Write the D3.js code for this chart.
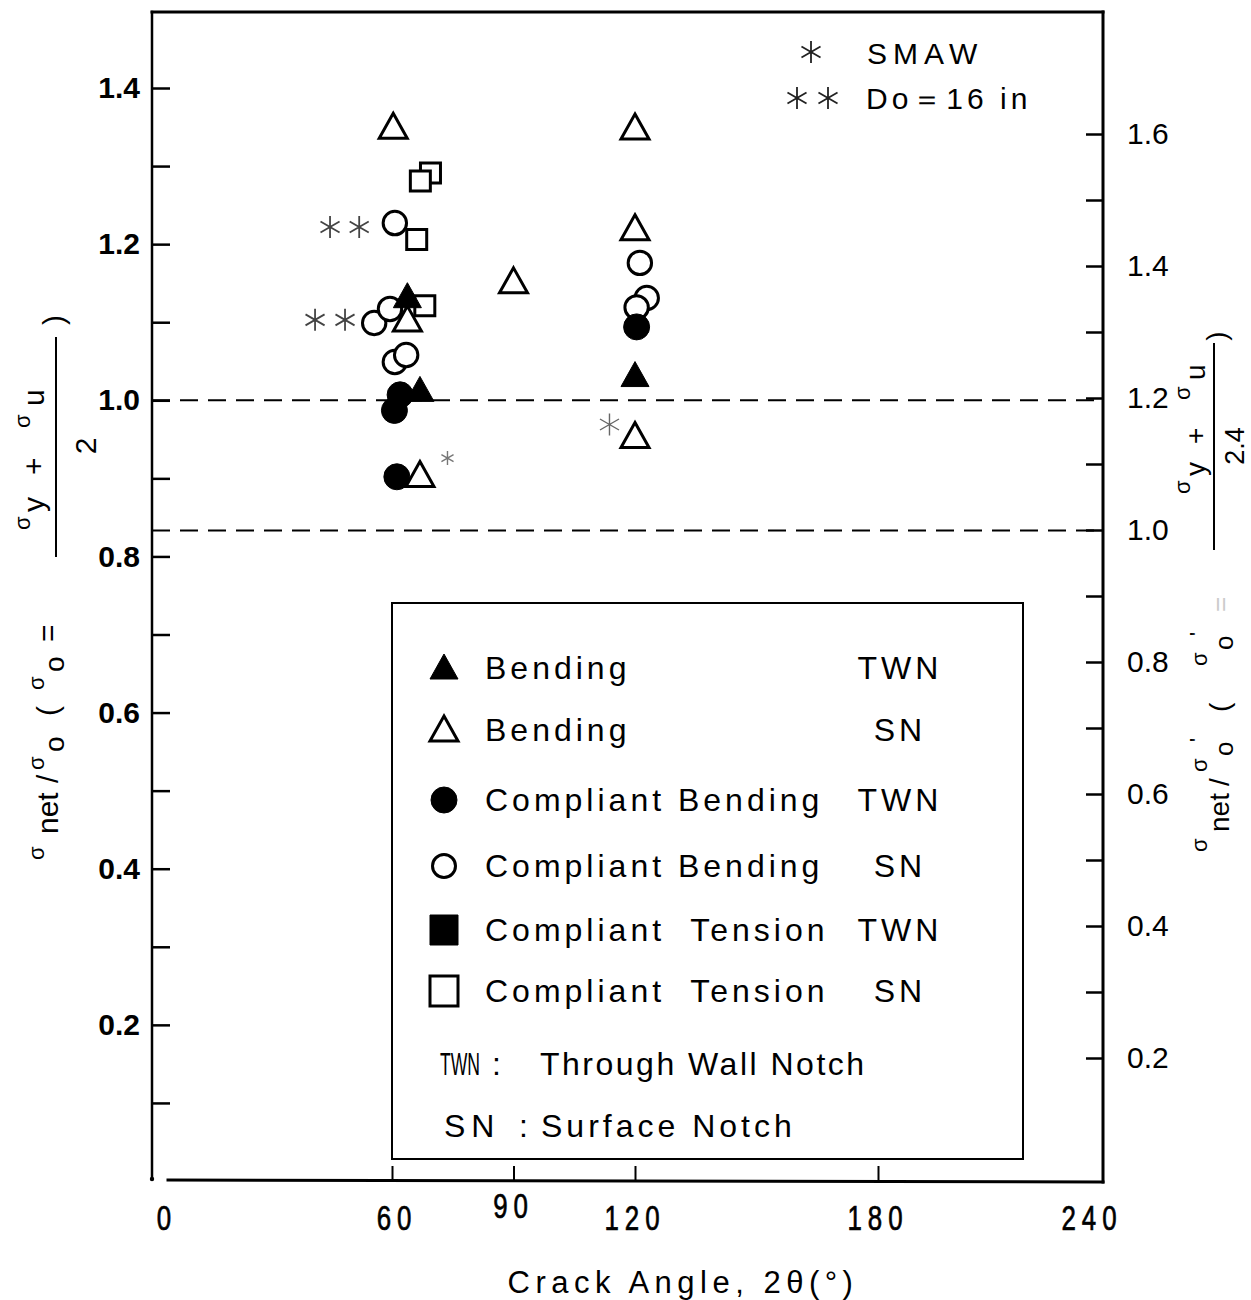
<!DOCTYPE html>
<html><head><meta charset="utf-8">
<script src="https://cdn.jsdelivr.net/npm/d3@7"></script>
<style>body{margin:0;background:#fff} svg{display:block}</style>
</head><body><svg id="c" width="1251" height="1300"></svg>
<script>
// ---------- data (crack angle 2θ in degrees, σnet/σo) ----------
const bendTWN      = [[63.8,1.133],[66.9,1.013],[120,1.032]];
const bendSN       = [[60.3,1.350],[120,1.349],[120,1.220],[90,1.152],[63.8,1.103],[66.9,0.904],[120,0.954]];
const compBendTWN  = [[62.0,1.007],[60.6,0.987],[61.2,0.902],[120.4,1.094]];
const compBendSN   = [[55.6,1.099],[59.5,1.117],[60.7,1.227],[60.7,1.049],[63.5,1.058],[121.2,1.176],[122.9,1.131],[120.4,1.119]];
const compTensTWN  = [];
const compTensSN   = [[69.5,1.291],[67.0,1.281],[66.1,1.206],[68.1,1.121]];
const smawMarks    = [[73.7,0.926],[113.7,0.969]];
const do16Marks    = [[44.7,1.222],[51.9,1.222],[41.0,1.103],[48.4,1.103]];
const refLevels    = [1.0, 1/1.2];
const xTickVals    = [60,90,120,180];
const xLabelVals   = [0,60,90,120,180,240];
const yLeftTicks   = [0.1,0.2,0.3,0.4,0.5,0.6,0.7,0.8,0.9,1.0,1.1,1.2,1.3,1.4];
const yRightTicks  = [0.2,0.3,0.4,0.5,0.6,0.7,0.8,0.9,1.0,1.1,1.2,1.3,1.4,1.5,1.6];
const legendRows = [
  {shape:"triUp",  fill:true,  name:"Bending",            notch:"TWN"},
  {shape:"triUp",  fill:false, name:"Bending",            notch:"SN"},
  {shape:"circle", fill:true,  name:"Compliant Bending",  notch:"TWN"},
  {shape:"circle", fill:false, name:"Compliant Bending",  notch:"SN"},
  {shape:"square", fill:true,  name:"Compliant  Tension", notch:"TWN"},
  {shape:"square", fill:false, name:"Compliant  Tension", notch:"SN"}
];

// ---------- layout ----------
const svg = d3.select("#c");
const L = 152, R = 1103, T = 12;
const x  = d3.scaleLinear().domain([60,120]).range([392,635]);
const yL = d3.scaleLinear().domain([0,1.4]).range([1181,88]);
const yR = d3.scaleLinear().domain([0.2,1.6]).range([1058,134]);
const FONT = "'Liberation Sans', Arial, sans-serif";

// frame
const fr = svg.append("g").attr("stroke","#000").attr("fill","none").attr("stroke-linecap","square");
fr.append("line").attr("x1",L).attr("y1",T).attr("x2",R).attr("y2",T).attr("stroke-width",3);
fr.append("line").attr("x1",R).attr("y1",T).attr("x2",R).attr("y2",1182).attr("stroke-width",3);
fr.append("line").attr("x1",L).attr("y1",T).attr("x2",L).attr("y2",1179).attr("stroke-width",2.5);
fr.append("line").attr("x1",168).attr("y1",1180).attr("x2",R).attr("y2",1182).attr("stroke-width",3);
svg.append("circle").attr("cx",L).attr("cy",1179).attr("r",2.2).attr("fill","#000");

// dashed reference lines
svg.selectAll("line.ref").data(refLevels).join("line").attr("class","ref")
  .attr("x1",L).attr("x2",R).attr("y1",d=>yL(d)).attr("y2",d=>yL(d))
  .attr("stroke","#000").attr("stroke-width",2).attr("stroke-dasharray","18,10");

// left axis
const axL = svg.append("g").attr("transform",`translate(${L},0)`)
  .call(d3.axisLeft(yL).tickValues(yLeftTicks).tickSizeInner(-18).tickSizeOuter(0).tickPadding(12)
    .tickFormat(d => (Math.round(d*10)%2===0) ? d3.format(".1f")(d) : ""));
axL.select(".domain").remove();
axL.selectAll("line").attr("stroke","#000").attr("stroke-width",2.5);
axL.selectAll("text").attr("font-family",FONT).attr("font-size",30).attr("font-weight","bold").attr("fill","#000");

// right axis
const axR = svg.append("g").attr("transform",`translate(${R},0)`)
  .call(d3.axisRight(yR).tickValues(yRightTicks).tickSizeInner(-17).tickSizeOuter(0).tickPadding(24)
    .tickFormat(d => (Math.round(d*10)%2===0) ? d3.format(".1f")(d) : ""));
axR.select(".domain").remove();
axR.selectAll("line").attr("stroke","#000").attr("stroke-width",2.5);
axR.selectAll("text").attr("font-family",FONT).attr("font-size",30).attr("fill","#000");

// bottom axis ticks
const axB = svg.append("g").attr("transform",`translate(0,1181)`)
  .call(d3.axisBottom(x).tickValues(xTickVals).tickSizeInner(-15).tickSizeOuter(0).tickFormat(""));
axB.select(".domain").remove();
axB.selectAll("line").attr("stroke","#000").attr("stroke-width",2);
// bottom labels (end labels pulled inside the frame as in the original), condensed glyphs
svg.selectAll("text.xl").data(xLabelVals).join("text").attr("class","xl")
  .attr("transform",d => `translate(${Math.min(1092, Math.max(167, x(d)+(d===60?5:0)))},${d===90?1218:1230}) scale(0.74,1)`)
  .attr("text-anchor","middle").attr("font-family",FONT).attr("font-size",35)
  .attr("letter-spacing",8).attr("stroke","#000").attr("stroke-width",0.7).text(d=>d);

svg.append("text").attr("x",683).attr("y",1293).attr("text-anchor","middle")
  .attr("font-family",FONT).attr("font-size",31).attr("letter-spacing",5.5)
  .text("Crack Angle, 2θ(°)");

// ---------- markers ----------
const TRI_W = 28, TRI_H = 25, CR = 13, SQ = 20;
function shapePath(shape){
  if (shape==="triUp") return `M0,${-TRI_H*0.55}L${TRI_W/2},${TRI_H*0.45}L${-TRI_W/2},${TRI_H*0.45}Z`;
  return `M${-SQ/2},${-SQ/2}h${SQ}v${SQ}h${-SQ}Z`;
}
function drawMarks(data, shape, filled, cls){
  svg.selectAll("path."+cls).data(data).join("path").attr("class",cls)
    .attr("transform",d=>`translate(${x(d[0])},${yL(d[1])})`)
    .attr("d", shape==="circle" ? d3.symbol(d3.symbolCircle, Math.PI*(filled?CR:CR-1.3)**2)() : shapePath(shape))
    .attr("fill", filled ? "#000" : "#fff").attr("stroke","#000")
    .attr("stroke-width", filled ? 1 : 3).attr("stroke-linejoin","miter");
}
drawMarks(compTensSN, "square", false, "cts");
drawMarks(compTensTWN, "square", true, "ctt");
drawMarks(compBendSN, "circle", false, "cbs");
drawMarks(compBendTWN, "circle", true, "cbt");
drawMarks(bendSN, "triUp", false, "bs");
drawMarks(bendTWN, "triUp", true, "bt");

function starPath(r){
  const a = Math.PI/6, c = Math.cos(a)*r, s = Math.sin(a)*r;
  return `M0,${-r}L0,${r}M${-c},${-s}L${c},${s}M${-c},${s}L${c},${-s}`;
}
svg.selectAll("path.do16").data(do16Marks).join("path").attr("class","do16")
  .attr("transform",d=>`translate(${x(d[0])},${yL(d[1])})`).attr("d",starPath(11))
  .attr("stroke","#444").attr("stroke-width",1.8).attr("fill","none");
svg.selectAll("path.smaw").data(smawMarks).join("path").attr("class","smaw")
  .attr("transform",d=>`translate(${x(d[0])},${yL(d[1])})`).attr("d",(d,i)=>starPath(i===0?7:11))
  .attr("stroke",(d,i)=>i===0?"#777":"#666").attr("stroke-width",1.4).attr("fill","none");

// top-right note
[[811,52],[797,98],[828,98]].forEach(p=>{
  svg.append("path").attr("transform",`translate(${p[0]},${p[1]})`).attr("d",starPath(11))
    .attr("stroke","#222").attr("stroke-width",1.8).attr("fill","none");
});
svg.append("text").attr("x",867).attr("y",64).attr("font-family",FONT).attr("font-size",30).attr("letter-spacing",6).text("SMAW");
svg.append("text").attr("x",866).attr("y",109).attr("font-family",FONT).attr("font-size",30).attr("letter-spacing",4).text("Do＝16 in");

// ---------- legend box ----------
svg.append("rect").attr("x",392).attr("y",603).attr("width",631).attr("height",556)
  .attr("fill","none").attr("stroke","#000").attr("stroke-width",2);
const rowY = [668,730,800,866,930,991];
legendRows.forEach((r,i)=>{
  const g = svg.append("g").attr("transform",`translate(444,${rowY[i]})`);
  let d;
  if (r.shape==="circle") d = d3.symbol(d3.symbolCircle, Math.PI*(r.fill?13:11.5)**2)();
  else if (r.shape==="square") d = `M-14,-15h28v30h-28Z`;
  else d = `M0,-14L14,11L-14,11Z`;
  g.append("path").attr("d",d).attr("fill",r.fill?"#000":"#fff").attr("stroke","#000").attr("stroke-width",r.fill?1:3);
  svg.append("text").attr("x",485).attr("y",rowY[i]+11).attr("font-family",FONT).attr("font-size",32)
    .attr("letter-spacing",4).style("white-space","pre").text(r.name);
  svg.append("text").attr("x",900).attr("y",rowY[i]+11).attr("text-anchor","middle").attr("font-family",FONT).attr("font-size",32)
    .attr("letter-spacing",4).text(r.notch);
});
svg.append("text").attr("transform","translate(440,1075) scale(0.55,1)").attr("font-family",FONT).attr("font-size",32).text("TWN");
svg.append("text").attr("x",492).attr("y",1075).attr("font-family",FONT).attr("font-size",32).text(":");
svg.append("text").attr("x",540).attr("y",1075).attr("font-family",FONT).attr("font-size",32).attr("letter-spacing",2.5).style("white-space","pre").text("Through Wall Notch");
svg.append("text").attr("x",444).attr("y",1137).attr("font-family",FONT).attr("font-size",32).attr("letter-spacing",6).text("SN");
svg.append("text").attr("x",519).attr("y",1137).attr("font-family",FONT).attr("font-size",32).text(":");
svg.append("text").attr("x",541).attr("y",1137).attr("font-family",FONT).attr("font-size",32).attr("letter-spacing",4).style("white-space","pre").text("Surface Notch");

// ---------- rotated axis titles ----------
function rot(xp, yp, str, size, anchor, color){
  return svg.append("text").attr("transform",`translate(${xp},${yp}) rotate(-90)`)
    .attr("font-family",FONT).attr("font-size",size).attr("text-anchor",anchor||"start")
    .attr("fill",color||"#000").style("white-space","pre").text(str);
}
// left: σnet/σo ( σo = (σy + σu)/2 )
rot(44,860,"σ",22); rot(58,834,"net",30); rot(58,783,"/",30); rot(44,770,"σ",22);
rot(64,752,"o",28); rot(58,716,"(",30); rot(44,690,"σ",22); rot(64,672,"o",28); rot(58,642,"=",30);
rot(30,530,"σ",22); rot(44,512,"y",30); rot(44,475,"+",30); rot(30,428,"σ",22); rot(44,406,"u",30);
svg.append("line").attr("x1",56).attr("x2",56).attr("y1",557).attr("y2",337).attr("stroke","#000").attr("stroke-width",2);
rot(96,446,"2",30,"middle");
rot(64,320,")",30,"middle");
// right: σnet/σ'o (σ'o = (σy + σu)/2.4 )
rot(1207,852,"σ",22); rot(1229,832,"net",28); rot(1229,786,"/",28); rot(1207,772,"σ",22);
rot(1233,756,"o",26); rot(1205,742,"'",22); rot(1229,712,"(",28); rot(1207,666,"σ",22); rot(1233,650,"o",26); rot(1205,636,"'",22);
rot(1229,612,"=",26,"start","#ccc");
rot(1190,494,"σ",22); rot(1205,476,"y",28); rot(1205,444,"+",28); rot(1190,400,"σ",22); rot(1205,380,"u",28);
svg.append("line").attr("x1",1214).attr("x2",1214).attr("y1",550).attr("y2",343).attr("stroke","#000").attr("stroke-width",2);
rot(1244,446,"2.4",27,"middle");
rot(1226,336,")",28,"middle");
</script></body></html>
